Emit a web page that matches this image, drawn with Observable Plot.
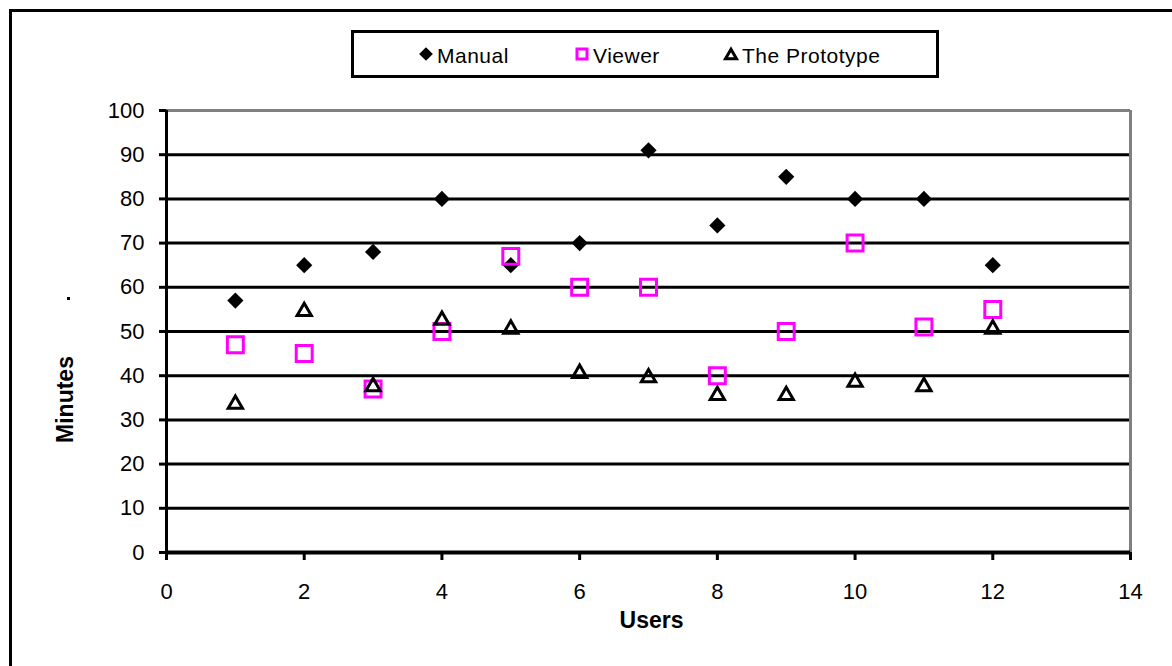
<!DOCTYPE html>
<html><head><meta charset="utf-8">
<script src="https://cdn.jsdelivr.net/npm/d3@7"></script>
<script src="https://cdn.jsdelivr.net/npm/@observablehq/plot@0.6"></script>
<style>
html,body{margin:0;padding:0;background:#fff;overflow:hidden;}
#wrap{position:relative;width:1172px;height:666px;overflow:hidden;font-family:"Liberation Sans",Arial,sans-serif;}
#outer{position:absolute;left:8.5px;top:8.5px;width:1300px;height:800px;border:3px solid #000;box-sizing:border-box;}
#chart{position:absolute;left:0;top:0;}
#legend{position:absolute;left:351px;top:30px;}
#dot{position:absolute;left:67px;top:297px;width:3px;height:3px;background:#000;}
</style></head><body>
<div id="wrap"><div id="outer"></div><div id="chart"></div><div id="legend"></div><div id="dot"></div></div>
<script>
const users = [1, 2, 3, 4, 5, 6, 7, 8, 9, 10, 11, 12];
const manual = [57, 65, 68, 80, 65, 70, 91, 74, 85, 80, 80, 65];
const viewer = [47, 45, 37, 50, 67, 60, 60, 40, 50, 70, 51, 55];
const prototype = [34, 55, 38, 53, 51, 41, 40, 36, 36, 39, 38, 51];
const seriesNames = ["Manual", "Viewer", "The Prototype"];
const xTicks = [0, 2, 4, 6, 8, 10, 12, 14];
const yTicks = [0, 10, 20, 30, 40, 50, 60, 70, 80, 90, 100];
const xLabel = "Users";
const yLabel = "Minutes";

const FONT = '"Liberation Sans", Arial, sans-serif';
const mk = (arr) => users.map((u, i) => ({user: u, value: arr[i]}));

const chart = Plot.plot({
  width: 1172, height: 666,
  marginLeft: 166, marginRight: 42, marginTop: 110, marginBottom: 114,
  style: {fontFamily: FONT, background: "transparent", overflow: "visible", color: "#000"},
  x: {domain: [0, 14]},
  y: {domain: [0, 100]},
  marks: [
    Plot.ruleY(yTicks.filter(v => v > 0 && v < 100), {stroke: "#000", strokeWidth: 3}),
    Plot.ruleY([100], {stroke: "#808080", strokeWidth: 3}),
    Plot.ruleX([14], {stroke: "#808080", strokeWidth: 3}),
    Plot.ruleX([0], {stroke: "#000", strokeWidth: 3}),
    Plot.ruleY([0], {stroke: "#000", strokeWidth: 4}),
    Plot.axisY({ticks: yTicks, tickSize: 7, tickPadding: 15, strokeWidth: 3, fontSize: 22, label: null, tickFormat: d => String(d)}),
    Plot.axisX({ticks: xTicks, tickSize: 8, tickPadding: 23, strokeWidth: 3, fontSize: 22, label: null, tickFormat: d => String(d)}),
    Plot.dot(mk(manual), {x: "user", y: "value", symbol: "diamond2", fill: "#000", stroke: "none", r: 7.3}),
    Plot.dot(mk(viewer), {x: "user", y: "value", symbol: "square", fill: "none", stroke: "#FF00FF", strokeWidth: 3, r: 9}),
    Plot.dot(mk(prototype), {x: "user", y: "value", symbol: "triangle2", fill: "none", stroke: "#000", strokeWidth: 3, r: 6.8, dy: 2}),
    Plot.text([yLabel], {frameAnchor: "left", textAnchor: "middle", lineAnchor: "middle", dx: -101, dy: 68, rotate: -90, fontSize: 23, fontWeight: "bold", fill: "#000"}),
    Plot.text([xLabel], {frameAnchor: "bottom", textAnchor: "middle", lineAnchor: "middle", dx: 3, dy: 68, fontSize: 23, fontWeight: "bold", fill: "#000"})
  ]
});
document.getElementById("chart").appendChild(chart);

// legend
const W = 588, H = 48;
const svg = d3.select("#legend").append("svg").attr("width", W).attr("height", H).style("display", "block");
svg.append("rect").attr("x", 1.5).attr("y", 1.5).attr("width", W - 3).attr("height", H - 3)
  .attr("fill", "#fff").attr("stroke", "#000").attr("stroke-width", 3);
const items = [
  {name: seriesNames[0], cx: 75, tx: 86, sym: d3.symbolDiamond2, size: 120, fill: "#000", stroke: "none", dy: 0},
  {name: seriesNames[1], cx: 231, tx: 242, sym: d3.symbolSquare, size: 100, fill: "none", stroke: "#FF00FF", dy: 0},
  {name: seriesNames[2], cx: 380, tx: 391, sym: d3.symbolTriangle2, size: 87, fill: "none", stroke: "#000", dy: 1.5}
];
for (const it of items) {
  svg.append("path").attr("d", d3.symbol(it.sym, it.size)())
    .attr("transform", `translate(${it.cx},${24 + it.dy})`)
    .attr("fill", it.fill).attr("stroke", it.stroke).attr("stroke-width", 3);
  svg.append("text").attr("x", it.tx).attr("y", 33).text(it.name)
    .attr("font-family", FONT).attr("font-size", 21).attr("letter-spacing", 0.5).attr("fill", "#000");
}
</script>
</body></html>
